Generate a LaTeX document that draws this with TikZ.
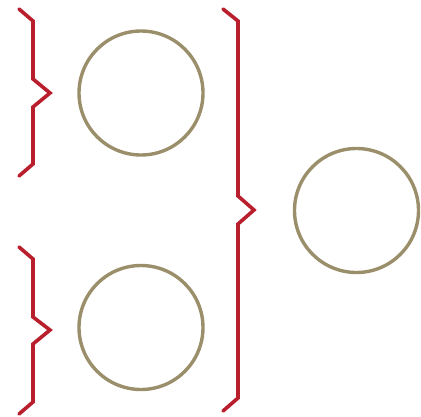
\documentclass[tikz,border=0pt]{standalone}
\begin{document}
\begin{tikzpicture}[x=1pt,y=-1pt,
  bracestyle/.style={draw={rgb,255:red,185;green,30;blue,45}, line width=3.6pt, line cap=round, line join=miter},
  ringstyle/.style={circle, draw={rgb,255:red,154;green,143;blue,106}, line width=3.4pt, minimum size=124pt, inner sep=0pt}]
\useasboundingbox (0,0) rectangle (421,416);
\node[ringstyle] (c1) at (141,93) {};
\node[ringstyle] (c2) at (141,327.5) {};
\node[ringstyle] (c3) at (356.5,210.5) {};
\draw[bracestyle] (19,9) -- (33,21) -- (33,79) -- (50,93) -- (33,107) -- (33,164) -- (19,176);
\draw[bracestyle] (19,247) -- (33,259) -- (33,317) -- (50,330) -- (33,344) -- (33,402) -- (19,414);
\draw[bracestyle] (223,9) -- (238,21) -- (238,196) -- (254,210) -- (238,224) -- (238,398) -- (223,411);
\end{tikzpicture}
\end{document}
